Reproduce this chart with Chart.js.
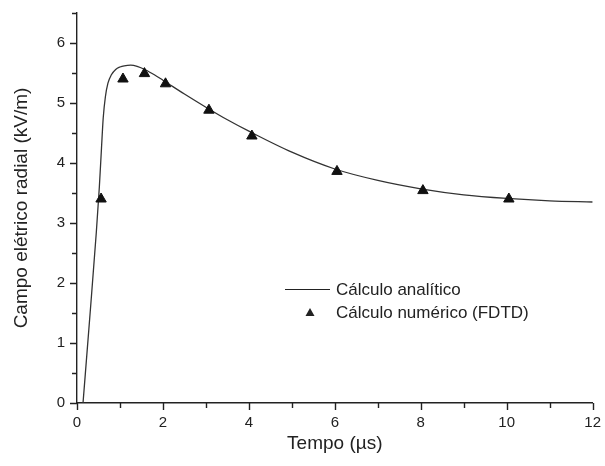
<!DOCTYPE html>
<html>
<head>
<meta charset="utf-8">
<script src="https://cdn.jsdelivr.net/npm/chart.js@4/dist/chart.umd.min.js"></script>
<style>
  html, body { margin: 0; padding: 0; background: #fff; }
  #wrap { width: 605px; height: 466px; }
</style>
</head>
<body>
<div id="wrap"><canvas id="myChart" width="605" height="466"></canvas></div>
<script>
'use strict';

// analytic curve
const tempoAnalitico = [0.14, 0.3, 0.45, 0.52, 0.57, 0.61, 0.66, 0.72, 0.8, 0.9, 1.0, 1.1, 1.25, 1.4, 1.6, 1.8, 2.0, 2.5, 3, 3.5, 4, 5, 6, 7, 8, 9, 10, 11, 12];
const campoAnalitico = [0, 1.45, 2.85, 3.6, 4.25, 4.75, 5.1, 5.33, 5.47, 5.56, 5.6, 5.62, 5.63, 5.61, 5.55, 5.47, 5.38, 5.15, 4.93, 4.72, 4.53, 4.18, 3.9, 3.71, 3.57, 3.47, 3.41, 3.37, 3.35];

// FDTD points
const tempoFDTD = [0.56, 1.07, 1.57, 2.06, 3.07, 4.07, 6.05, 8.05, 10.05];
const campoFDTD = [3.4, 5.4, 5.49, 5.32, 4.88, 4.45, 3.86, 3.54, 3.4];

const xTicks = [0, 2, 4, 6, 8, 10, 12];
const yTicks = [0, 1, 2, 3, 4, 5, 6];
const legendLabels = ['Cálculo analítico', 'Cálculo numérico (FDTD)'];

const ink = '#222';
const fontFamily = "'Liberation Sans', Arial, sans-serif";

function toPoints(xs, ys) {
  const pts = [];
  for (let i = 0; i < xs.length; i++) {
    pts.push({ x: xs[i], y: ys[i] });
  }
  return pts;
}

// draws major/minor tick marks and the legend
const extras = {
  id: 'extras',
  afterDraw(chart) {
    const ctx = chart.ctx;
    const xs = chart.scales.x;
    const ys = chart.scales.y;
    ctx.save();
    ctx.strokeStyle = ink;
    ctx.lineWidth = 1.4;
    ctx.beginPath();
    xs.ticks.forEach(t => {
      const px = Math.round(xs.getPixelForValue(t.value)) + 0.5;
      const len = xTicks.includes(t.value) ? 7 : 5;
      ctx.moveTo(px, xs.top);
      ctx.lineTo(px, xs.top + len);
    });
    ys.ticks.forEach(t => {
      const py = Math.round(ys.getPixelForValue(t.value)) + 0.5;
      const len = yTicks.includes(t.value) ? 7 : 5;
      ctx.moveTo(ys.right, py);
      ctx.lineTo(ys.right - len, py);
    });
    ctx.stroke();

    // legend
    ctx.font = '17px ' + fontFamily;
    ctx.fillStyle = ink;
    ctx.textBaseline = 'middle';
    ctx.textAlign = 'left';
    ctx.lineWidth = 1.2;
    ctx.beginPath();
    ctx.moveTo(285, 289.5);
    ctx.lineTo(330, 289.5);
    ctx.stroke();
    ctx.fillText(legendLabels[0], 336, 290);

    ctx.beginPath();
    ctx.moveTo(310, 308);
    ctx.lineTo(314.5, 316);
    ctx.lineTo(305.5, 316);
    ctx.closePath();
    ctx.fill();
    ctx.fillText(legendLabels[1], 336, 313);
    ctx.restore();
  }
};

const data = {
  datasets: [
    {
      label: legendLabels[0],
      data: toPoints(tempoAnalitico, campoAnalitico),
      showLine: true,
      borderColor: '#333',
      borderWidth: 1.3,
      pointRadius: 0,
      cubicInterpolationMode: 'monotone',
      order: 2
    },
    {
      label: legendLabels[1],
      data: toPoints(tempoFDTD, campoFDTD),
      showLine: false,
      pointStyle: 'triangle',
      pointRadius: 6,
      backgroundColor: '#111',
      borderColor: '#111',
      borderWidth: 1,
      order: 1
    }
  ]
};

const config = {
  type: 'scatter',
  data: data,
  options: {
    responsive: false,
    devicePixelRatio: 1,
    animation: false,
    layout: { padding: { top: 11, right: 10, left: 0, bottom: 0 } },
    plugins: {
      legend: { display: false },
      tooltip: { enabled: false }
    },
    scales: {
      x: {
        type: 'linear',
        min: 0,
        max: 12,
        afterBuildTicks(scale) {
          const t = [];
          for (let v = 0; v <= 12; v++) t.push({ value: v });
          scale.ticks = t;
        },
        afterFit(scale) { scale.height = 63; },
        border: { display: true, color: ink, width: 1.4 },
        grid: { display: true, drawOnChartArea: false, drawTicks: true, tickLength: 7, tickColor: 'rgba(0,0,0,0)' },
        ticks: {
          color: ink,
          font: { size: 15, family: fontFamily },
          padding: 4,
          maxRotation: 0,
          autoSkip: false,
          callback: v => xTicks.includes(v) ? String(v) : ''
        },
        title: {
          display: true,
          text: 'Tempo (µs)',
          color: ink,
          font: { size: 19, family: fontFamily },
          padding: { top: 0, bottom: 10.5 }
        }
      },
      y: {
        type: 'linear',
        min: 0,
        max: 6.5,
        afterBuildTicks(scale) {
          const t = [];
          for (let v = 0; v <= 6.5; v += 0.5) t.push({ value: v });
          scale.ticks = t;
        },
        afterFit(scale) { scale.width = 77; },
        border: { display: true, color: ink, width: 1.4 },
        grid: { display: true, drawOnChartArea: false, drawTicks: true, tickLength: 8, tickColor: 'rgba(0,0,0,0)' },
        ticks: {
          color: ink,
          font: { size: 15, family: fontFamily },
          padding: 4,
          autoSkip: false,
          callback: v => yTicks.includes(v) ? String(v) : ''
        },
        title: {
          display: true,
          text: 'Campo elétrico radial (kV/m)',
          color: ink,
          font: { size: 19, family: fontFamily },
          padding: { top: 10.5, bottom: 0 }
        }
      }
    }
  },
  plugins: [extras]
};

const canvasChart = document.getElementById('myChart');
const myChart = new Chart(canvasChart, config);
</script>
</body>
</html>
